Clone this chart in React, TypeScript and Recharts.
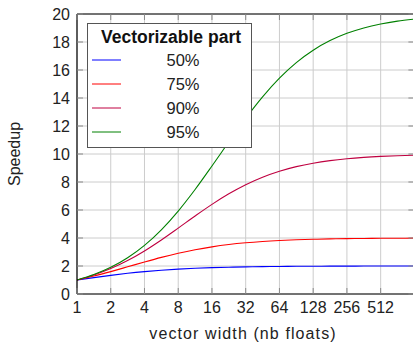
import React from 'react';
import { LineChart, Line, XAxis, YAxis, CartesianGrid, ReferenceLine, Legend, Customized } from 'recharts';

// log2 of the vector width (1 .. 1024)
const LOG2_WIDTH = [0, 0.5, 1, 1.5, 2, 2.5, 3, 3.5, 4, 4.5, 5, 5.5, 6, 6.5, 7, 7.5, 8, 8.5, 9, 9.5, 10];
const SPEEDUP_50 = [1, 1.172, 1.333, 1.478, 1.6, 1.7, 1.778, 1.838, 1.882, 1.915, 1.939, 1.957, 1.969, 1.978, 1.985, 1.989, 1.992, 1.995, 1.996, 1.997, 1.998];
const SPEEDUP_75 = [1, 1.282, 1.6, 1.941, 2.286, 2.614, 2.909, 3.162, 3.368, 3.532, 3.657, 3.751, 3.821, 3.872, 3.908, 3.935, 3.954, 3.967, 3.977, 3.984, 3.988];
const SPEEDUP_90 = [1, 1.358, 1.818, 2.391, 3.077, 3.86, 4.706, 5.57, 6.4, 7.154, 7.805, 8.341, 8.767, 9.096, 9.343, 9.526, 9.66, 9.757, 9.827, 9.877, 9.913];
const SPEEDUP_95 = [1, 1.386, 1.905, 2.592, 3.478, 4.588, 5.926, 7.464, 9.143, 10.871, 12.549, 14.086, 15.422, 16.53, 17.415, 18.1, 18.618, 19.003, 19.284, 19.489, 19.636];

const X_TICKS = [0, 1, 2, 3, 4, 5, 6, 7, 8, 9];
const X_TICK_LABELS = ['1', '2', '4', '8', '16', '32', '64', '128', '256', '512'];
const Y_TICKS = [0, 2, 4, 6, 8, 10, 12, 14, 16, 18, 20];

const SERIES = [
  { key: 's50', name: '50%', color: '#0000ff' },
  { key: 's75', name: '75%', color: '#ff0000' },
  { key: 's90', name: '90%', color: '#bf0040' },
  { key: 's95', name: '95%', color: '#008000' },
];

const data = LOG2_WIDTH.map((x, i) => ({
  x,
  s50: SPEEDUP_50[i],
  s75: SPEEDUP_75[i],
  s90: SPEEDUP_90[i],
  s95: SPEEDUP_95[i],
}));

const FONT = '"Liberation Sans", Arial, sans-serif';
const PLOT_TOP = 14;
const PLOT_RIGHT = 414.4;
const TICK_COLOR = '#8a8a8a';
const TEXT_COLOR = '#222';

function XTick(props: any) {
  const { x, y, payload } = props;
  return (
    <g>
      <line x1={x} x2={x} y1={y} y2={y - 6} stroke={TICK_COLOR} strokeWidth={1} />
      <line x1={x} x2={x} y1={PLOT_TOP} y2={PLOT_TOP + 6} stroke={TICK_COLOR} strokeWidth={1} />
      <text x={x} y={y + 19} textAnchor="middle" fontFamily={FONT} fontSize={16} fill={TEXT_COLOR}>
        {X_TICK_LABELS[payload.value]}
      </text>
    </g>
  );
}

function YTick(props: any) {
  const { x, y, payload } = props;
  return (
    <g>
      <line x1={x} x2={x + 6} y1={y} y2={y} stroke={TICK_COLOR} strokeWidth={1} />
      <line x1={PLOT_RIGHT - 6} x2={PLOT_RIGHT} y1={y} y2={y} stroke={TICK_COLOR} strokeWidth={1} />
      <text x={x - 7} y={y + 6} textAnchor="end" fontFamily={FONT} fontSize={16} fill={TEXT_COLOR}>
        {payload.value}
      </text>
    </g>
  );
}

function AxisTitles() {
  return (
    <g>
      <text x={243} y={339} textAnchor="middle" fontFamily={FONT} fontSize={16} fill={TEXT_COLOR} letterSpacing={1.1}>
        vector width (nb floats)
      </text>
      <text
        x={20}
        y={154}
        textAnchor="middle"
        fontFamily={FONT}
        fontSize={16}
        fill={TEXT_COLOR}
        transform="rotate(-90, 20, 154)"
      >
        Speedup
      </text>
    </g>
  );
}

function LegendBox() {
  return (
    <div style={{ width: 165, height: 125, background: '#fff', border: '1.5px solid #555', boxSizing: 'border-box' }}>
      <svg width={162} height={122} style={{ display: 'block' }}>
        <text x={83} y={19} textAnchor="middle" fontFamily={FONT} fontSize={17.5} fontWeight="bold" fill="#111">
          Vectorizable part
        </text>
        {SERIES.map((s, i) => (
          <g key={s.key}>
            <line x1={4} x2={33} y1={36 + i * 24} y2={36 + i * 24} stroke={s.color} strokeWidth={1} />
            <text x={95} y={42 + i * 24} textAnchor="middle" fontFamily={FONT} fontSize={16.5} fill={TEXT_COLOR}>
              {s.name}
            </text>
          </g>
        ))}
      </svg>
    </div>
  );
}

export default function App() {
  return (
    <div style={{ position: 'absolute', left: 0, top: 0, width: 413, height: 343, overflow: 'hidden', background: '#fff' }}>
      <LineChart width={420} height={343} data={data} margin={{ top: PLOT_TOP, right: 420 - PLOT_RIGHT, bottom: 0, left: 0 }}>
        <CartesianGrid stroke="#cccccc" strokeWidth={1} />
        <XAxis
          dataKey="x"
          type="number"
          domain={[0, 10]}
          ticks={X_TICKS}
          interval={0}
          height={49}
          tickSize={0}
          tickMargin={0}
          tickLine={false}
          tick={<XTick />}
          axisLine={{ stroke: '#000', strokeWidth: 1.2 }}
          allowDataOverflow
        />
        <YAxis
          type="number"
          domain={[0, 20]}
          ticks={Y_TICKS}
          interval={0}
          width={77}
          tickSize={0}
          tickMargin={0}
          tickLine={false}
          tick={<YTick />}
          axisLine={{ stroke: '#000', strokeWidth: 1.2 }}
          allowDataOverflow
        />
        <ReferenceLine y={20} stroke="#000" strokeWidth={1.2} ifOverflow="visible" />
        <ReferenceLine x={10} stroke="#000" strokeWidth={1.2} ifOverflow="visible" />
        {SERIES.map((s) => (
          <Line
            key={s.key}
            dataKey={s.key}
            name={s.name}
            type="monotone"
            stroke={s.color}
            strokeWidth={1.1}
            dot={false}
            isAnimationActive={false}
          />
        ))}
        <Legend
          layout="vertical"
          align="center"
          verticalAlign="middle"
          content={<LegendBox />}
          wrapperStyle={{ position: 'absolute', left: 87, top: 23, width: 165, height: 125 }}
        />
        <Customized component={AxisTitles} />
      </LineChart>
    </div>
  );
}
